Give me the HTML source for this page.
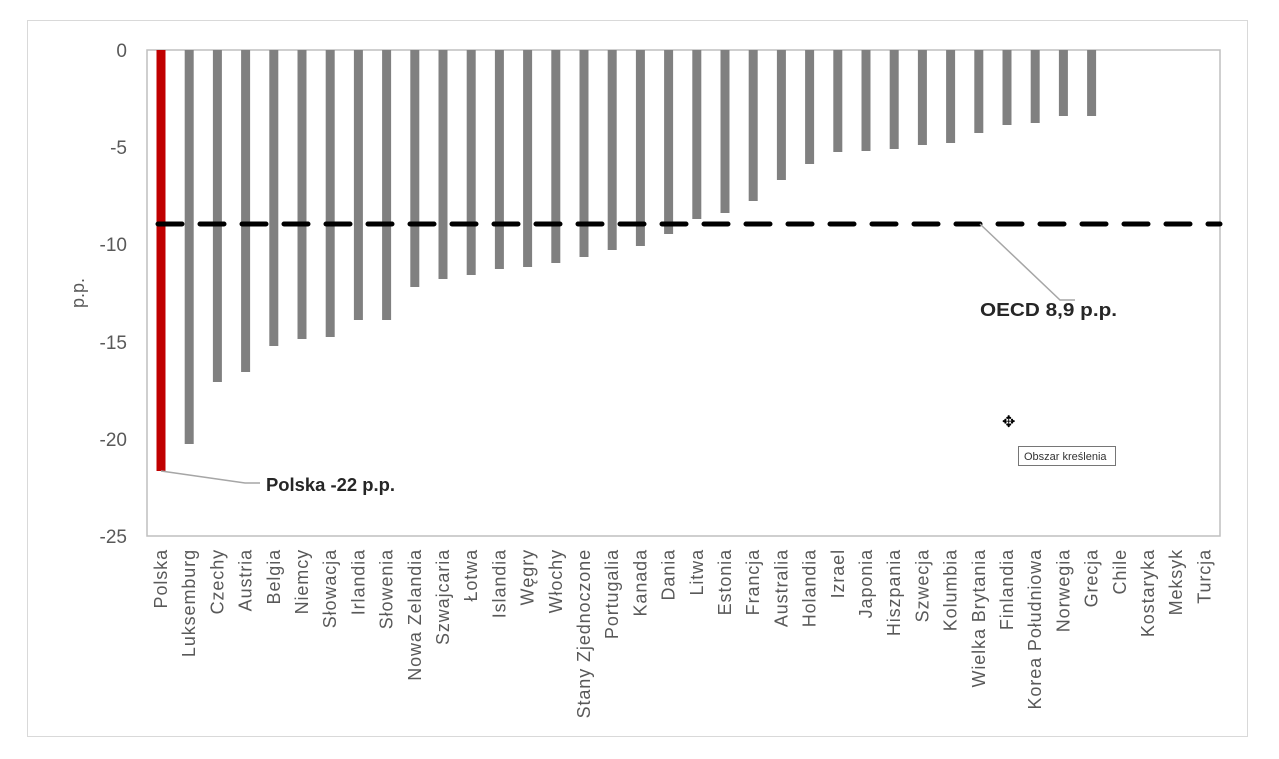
<!DOCTYPE html>
<html><head><meta charset="utf-8"><style>body{margin:0;background:#fff}svg{display:block}</style></head>
<body>
<svg width="1279" height="759" xmlns="http://www.w3.org/2000/svg" font-family="Liberation Sans, sans-serif">
<rect x="0" y="0" width="1279" height="759" fill="#fff"/>
<rect x="27.5" y="20.5" width="1220" height="716" fill="none" stroke="#d9d9d9"/>
<rect x="147" y="50" width="1073" height="486" fill="none" stroke="#bfbfbf" stroke-width="1.5"/>
<g fill="#595959" font-size="19" text-anchor="end">
<text x="127" y="57">0</text><text x="127" y="154">-5</text><text x="127" y="251">-10</text>
<text x="127" y="349">-15</text><text x="127" y="446">-20</text><text x="127" y="543">-25</text>
</g>
<text transform="translate(84,293) rotate(-90)" fill="#595959" font-size="18" text-anchor="middle">p.p.</text>
<g id="bars"></g>
<line x1="158" y1="224" x2="1220" y2="224" stroke="#000" stroke-width="5" stroke-dasharray="24 18" stroke-linecap="round"/>
<polyline points="161,471 245,483 260,483" fill="none" stroke="#a6a6a6" stroke-width="1.5"/>
<text x="266" y="491" font-size="18" font-weight="bold" fill="#262626" textLength="129" lengthAdjust="spacingAndGlyphs">Polska -22 p.p.</text>
<polyline points="980,224 1060,300 1075,300" fill="none" stroke="#a6a6a6" stroke-width="1.5"/>
<text x="980" y="316" font-size="18" font-weight="bold" fill="#262626" textLength="137" lengthAdjust="spacingAndGlyphs">OECD 8,9 p.p.</text>
<g id="labels" fill="#595959" font-size="18" text-anchor="end" letter-spacing="0.9"></g>
<rect x="1018.5" y="446.5" width="97" height="19" fill="#fff" stroke="#767676"/>
<text x="1024" y="460" font-size="11" fill="#333">Obszar kreślenia</text>
<text x="1002" y="427" font-size="16">✥</text>
</svg>
<script>
var names=["Polska","Luksemburg","Czechy","Austria","Belgia","Niemcy","Słowacja","Irlandia","Słowenia","Nowa Zelandia","Szwajcaria","Łotwa","Islandia","Węgry","Włochy","Stany Zjednoczone","Portugalia","Kanada","Dania","Litwa","Estonia","Francja","Australia","Holandia","Izrael","Japonia","Hiszpania","Szwecja","Kolumbia","Wielka Brytania","Finlandia","Korea Południowa","Norwegia","Grecja","Chile","Kostaryka","Meksyk","Turcja"];
var bottoms=[471,444,382,372,346,339,337,320,320,287,279,275,269,267,263,257,250,246,234,219,213,201,180,164,152,151,149,145,143,133,125,123,116,116,50,50,50,50];
var ns="http://www.w3.org/2000/svg",b=document.getElementById("bars"),l=document.getElementById("labels");
for(var i=0;i<38;i++){var cx=161+i*28.2;
if(bottoms[i]>50){var r=document.createElementNS(ns,"rect");r.setAttribute("x",cx-4.5);r.setAttribute("y",50);r.setAttribute("width",9);r.setAttribute("height",bottoms[i]-50);r.setAttribute("fill",i==0?"#c00000":"#808080");b.appendChild(r);}
var t=document.createElementNS(ns,"text");t.setAttribute("transform","translate("+(cx+6)+",549) rotate(-90)");t.textContent=names[i];l.appendChild(t);}
</script>
</body></html>
